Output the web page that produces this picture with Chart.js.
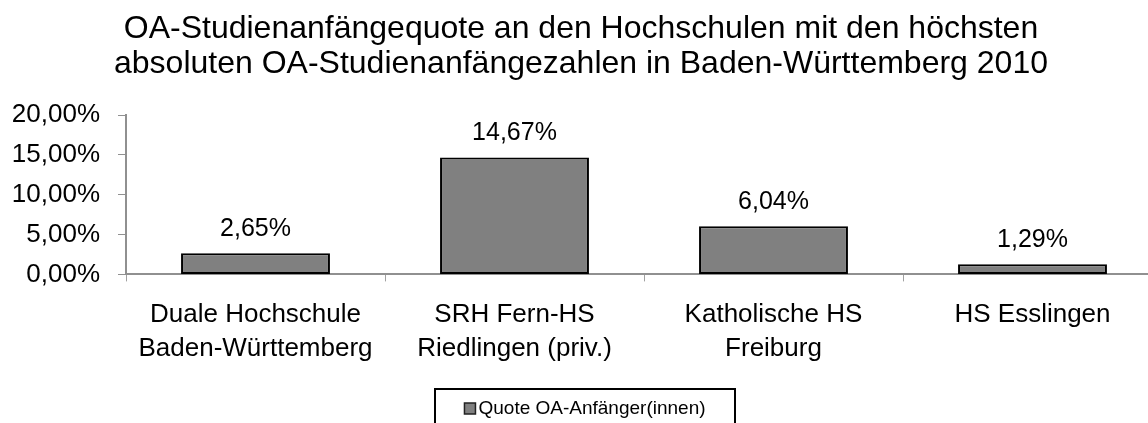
<!DOCTYPE html>
<html><head><meta charset="utf-8">
<script src="https://cdn.jsdelivr.net/npm/chart.js@4/dist/chart.umd.min.js"></script>
<style>html,body{margin:0;padding:0;overflow:hidden;background:#fff}#wrap{width:1170px;height:460px;position:relative}</style>
</head><body><div id="wrap"><canvas id="c"></canvas></div>
<script>
const categories = [["Duale Hochschule","Baden-Württemberg"],["SRH Fern-HS","Riedlingen (priv.)"],["Katholische HS","Freiburg"],["HS Esslingen"]];
const values = [2.65, 14.67, 6.04, 1.29];
const seriesName = "Quote OA-Anfänger(innen)";
const titleLines = ["OA-Studienanfängequote an den Hochschulen mit den höchsten","absoluten OA-Studienanfängezahlen in Baden-Württemberg 2010"];
const fmt = v => v.toFixed(2).replace('.', ',') + '%';
const FONT = "'Liberation Sans', Arial, sans-serif";

const dataLabels = {
  id: 'dataLabels',
  afterDatasetsDraw(chart) {
    const ctx = chart.ctx;
    const meta = chart.getDatasetMeta(0);
    ctx.save();
    ctx.font = "25px " + FONT;
    ctx.fillStyle = '#000';
    ctx.textAlign = 'center';
    ctx.textBaseline = 'middle';
    meta.data.forEach((bar, i) => {
      ctx.fillText(fmt(values[i]), bar.x, bar.y - 24);
    });
    ctx.restore();
  }
};
const legendBox = {
  id: 'legendBox',
  afterDraw(chart) {
    const ctx = chart.ctx;
    const cx = chart.width / 2;
    const ds = chart.data.datasets[0];
    ctx.save();
    ctx.strokeStyle = '#000';
    ctx.lineWidth = 2;
    ctx.strokeRect(cx - 150, 389, 300, 44);
    ctx.font = "19px " + FONT;
    const tw = ctx.measureText(ds.label).width;
    const total = 11 + 3 + tw;
    const x0 = cx - total / 2;
    ctx.fillStyle = ds.backgroundColor;
    ctx.fillRect(x0, 403, 11, 11);
    ctx.lineWidth = 1.5;
    ctx.strokeStyle = '#222';
    ctx.strokeRect(x0, 403, 11, 11);
    ctx.fillStyle = '#000';
    ctx.textBaseline = 'middle';
    ctx.textAlign = 'left';
    ctx.fillText(ds.label, x0 + 14, 409);
    ctx.restore();
  }
};

new Chart(document.getElementById('c'), {
  type: 'bar',
  data: {
    labels: categories,
    datasets: [{
      label: seriesName,
      data: values,
      backgroundColor: '#808080',
      borderColor: '#000',
      borderWidth: 2,
      borderSkipped: false,
      categoryPercentage: 1,
      barPercentage: 0.575
    }]
  },
  options: {
    responsive: true,
    maintainAspectRatio: false,
    animation: false,
    layout: { padding: { left: 0, right: 8, top: 0, bottom: 77 } },
    plugins: {
      title: {
        display: true,
        text: titleLines,
        color: '#000',
        font: { family: FONT, size: 32, weight: 'normal', lineHeight: 1.08 },
        padding: { top: 12, bottom: 34 }
      },
      legend: { display: false },
      tooltip: { enabled: false }
    },
    scales: {
      x: {
        grid: { drawOnChartArea: false, drawTicks: true, tickLength: 7, color: '#a0a0a0', offset: true },
        border: { color: '#909090', width: 2 },
        ticks: { color: '#000', font: { family: FONT, size: 26, lineHeight: 1.3 }, padding: 17, maxRotation: 0, autoSkip: false }
      },
      y: {
        min: 0, max: 20,
        afterFit(s) { s.width = 126; },
        grid: { drawOnChartArea: false, drawTicks: true, tickLength: 8, color: '#909090' },
        border: { color: '#909090', width: 2 },
        ticks: { stepSize: 5, autoSkip: false, color: '#000', font: { family: FONT, size: 26 }, padding: 18, callback: v => fmt(v) }
      }
    }
  },
  plugins: [dataLabels, legendBox]
});
</script></body></html>
